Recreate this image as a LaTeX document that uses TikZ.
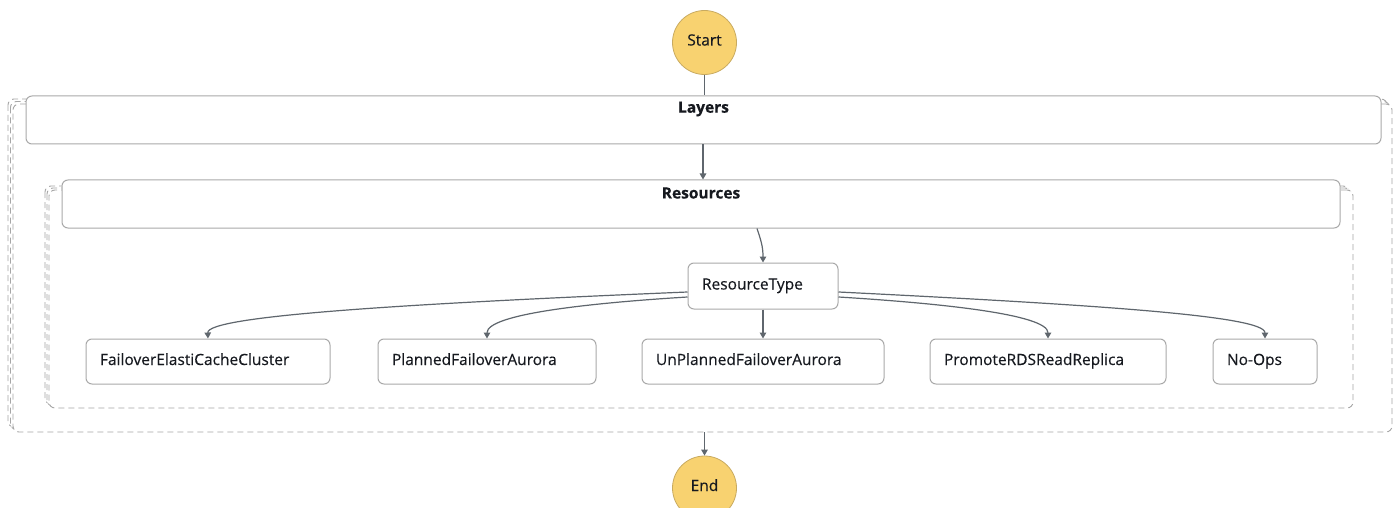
\documentclass[tikz,border=0pt]{standalone}
\usepackage{fontspec}
\setmainfont{Open Sans}[FakeBold=0.35]
\usetikzlibrary{arrows.meta}
\definecolor{gold}{HTML}{F8D270}
\definecolor{goldline}{HTML}{C8AA60}
\definecolor{boxline}{HTML}{A9A9A9}
\definecolor{dashline}{HTML}{A6A6A6}
\definecolor{edgecol}{HTML}{5F666D}
\definecolor{ink}{HTML}{16191F}
\begin{document}
\begin{tikzpicture}[x=1pt,y=-1pt,
  every node/.style={text=ink},
  term/.style={circle, draw=goldline, fill=gold, line width=0.8pt, minimum size=64pt, inner sep=0pt, text height=11pt, text depth=5pt, font=\fontsize{15.5}{18}\selectfont},
  task/.style={draw=boxline, fill=white, rounded corners=6pt, line width=1pt, minimum height=45pt, inner xsep=14pt, align=left, text height=11pt, text depth=4pt, font=\fontsize{15.5}{18}\selectfont},
  ctbox/.style={draw=boxline, fill=white, rounded corners=6pt, line width=1pt, inner sep=0pt},
  ctlabel/.style={font=\fontsize{15.5}{18}\selectfont\bfseries, inner sep=0pt},
  mapcard/.style={draw=dashline, fill=white, dashed, dash pattern=on 6pt off 4pt, rounded corners=6pt, line width=0.9pt, inner sep=0pt},
  edge/.style={draw=edgecol, line width=1.2pt, -{Triangle[length=6pt,width=6.5pt]}},
  plain/.style={draw=edgecol, line width=1.2pt}
]
\useasboundingbox (0,0) rectangle (1398,508);

% outer map container (stacked)
\draw[mapcard] (8,99) rectangle (1387,427);
\draw[mapcard] (10.5,101.5) rectangle (1389.5,429.5);
\node[mapcard, minimum width=1379pt, minimum height=328pt] (lmap) at (702.5,268) {};
\node[ctbox, minimum width=1355pt, minimum height=48pt] (layers) at (703.5,120) {};
\node[ctlabel] (layersL) at (703.5,109) {Layers};

% inner map container (stacked)
\draw[mapcard] (45,186) rectangle (1349,404);
\draw[mapcard] (47,188) rectangle (1351,406);
\node[mapcard, minimum width=1304pt, minimum height=218pt] (rmap) at (701,299) {};
\node[ctbox, minimum width=1278pt, minimum height=48pt] (res) at (701,204) {};
\node[ctlabel] (resL) at (701,193) {Resources};

% start / end
\node[term] (start) at (704.5,42.5) {Start};
\node[term] (endc) at (704.5,488) {End};

% tasks
\node[task, minimum width=150pt, minimum height=46pt, text width=122pt] (rt) at (763,286) {ResourceType};
\node[task, minimum width=244pt, text width=216pt] (fecc) at (208,361.5) {FailoverElastiCacheCluster};
\node[task, minimum width=218pt, text width=190pt] (pfa) at (487,361.5) {PlannedFailoverAurora};
\node[task, minimum width=242pt, text width=214pt] (upfa) at (763,361.5) {UnPlannedFailoverAurora};
\node[task, minimum width=236pt, text width=208pt] (prr) at (1048,361.5) {PromoteRDSReadReplica};
\node[task, minimum width=104pt, text width=76pt] (noops) at (1265,361.5) {No-Ops};

% connectors
\draw[plain] (start.south) -- (start.south |- layers.north);
\draw[edge] (layers.south -| 703,0) -- (res.north -| 703,0);
\draw[edge] ([xshift=56pt]res.south) .. controls +(4,12) and +(0,-16) .. (rt.north);
\draw[edge] ([yshift=-6pt]rt.west) .. controls (400,304) and (207,316) .. (fecc.north);
\draw[edge] ([yshift=-11pt]rt.west) .. controls (590,303) and (487,314) .. (pfa.north);
\draw[edge] (rt.south) -- (upfa.north);
\draw[edge] ([yshift=-11pt]rt.east) .. controls (936,303) and (1048,314) .. (prr.north);
\draw[edge] ([yshift=-6pt]rt.east) .. controls (1100,305) and (1265,316) .. (noops.north);
\draw[edge] (lmap.south -| endc) -- (endc.north);
\end{tikzpicture}
\end{document}
